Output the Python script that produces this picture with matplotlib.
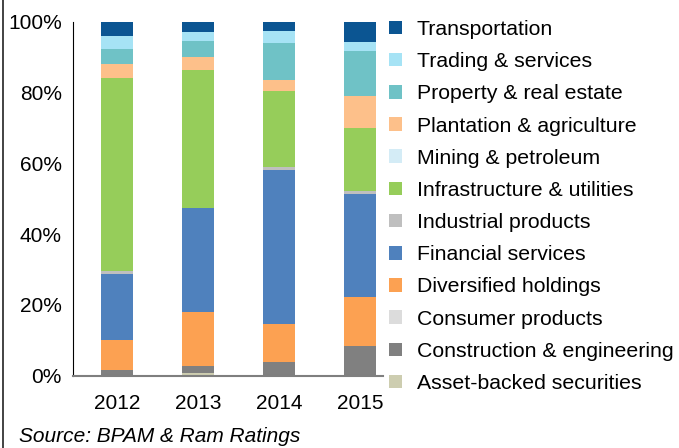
import numpy as np
import matplotlib
matplotlib.use("Agg")
import matplotlib.pyplot as plt
from matplotlib.lines import Line2D

plt.rcParams['font.family'] = ['Liberation Sans', 'DejaVu Sans']

years = ['2012', '2013', '2014', '2015']

# sector shares in %, bottom of the stack first
sectors = ['Asset-backed securities', 'Construction & engineering', 'Consumer products',
           'Diversified holdings', 'Financial services', 'Industrial products',
           'Infrastructure & utilities', 'Mining & petroleum', 'Plantation & agriculture',
           'Property & real estate', 'Trading & services', 'Transportation']
asset_backed = [0.0, 0.8, 0.0, 0.0]
construction = [1.6, 2.0, 3.9, 8.4]
consumer = [0.0, 0.0, 0.0, 0.0]
diversified = [8.5, 15.3, 10.7, 13.9]
financial = [18.7, 29.4, 43.6, 29.1]
industrial = [0.8, 0.0, 0.8, 0.8]
infrastructure = [54.6, 39.0, 21.5, 17.8]
mining = [0.0, 0.0, 0.0, 0.0]
plantation = [3.9, 3.7, 3.1, 9.1]
property_re = [4.3, 4.5, 10.4, 12.7]
trading = [3.6, 2.6, 3.4, 2.5]
transport = [4.0, 2.7, 2.6, 5.7]

series = [asset_backed, construction, consumer, diversified, financial, industrial,
          infrastructure, mining, plantation, property_re, trading, transport]
colors = ['#cdcdb0', '#808080', '#dcdcdc', '#fca152', '#4f81bd', '#bfbfbf',
          '#96cd5a', '#d4ecf6', '#fdc08a', '#6fc2c6', '#a6e3f5', '#0b5592']

fig = plt.figure(figsize=(6.79, 4.48), dpi=100)
ax = fig.add_axes([0.1075, 0.1614, 0.4565, 0.7896])

x = np.arange(len(years))
bottom = np.zeros(len(years))
handles = []
for name, vals, c in zip(sectors, series, colors):
    b = ax.bar(x, vals, width=0.4, bottom=bottom, color=c, label=name)
    handles.append(b)
    bottom += np.array(vals)

ax.set_xlim(-0.54, 3.28)
ax.set_ylim(0, 100)
ax.set_yticks([0, 20, 40, 60, 80, 100])
ax.set_yticklabels(['0%', '20%', '40%', '60%', '80%', '100%'])
ax.set_xticks(x)
ax.set_xticklabels(years)
ax.tick_params(axis='y', length=0, pad=8, labelsize=15)
ax.tick_params(axis='x', length=0, pad=13, labelsize=15)
ax.spines['top'].set_visible(False)
ax.spines['right'].set_visible(False)
ax.spines['left'].set_linewidth(0.8)
ax.spines['bottom'].set_color('#7f7f7f')
ax.spines['bottom'].set_linewidth(1.5)

fig.legend(handles[::-1], sectors[::-1], loc='upper left',
           bbox_to_anchor=(0.573, 0.9553), frameon=False, fontsize=15.3,
           handlelength=0.6, handleheight=0.6, handletextpad=0.7,
           labelspacing=0.62, borderpad=0, borderaxespad=0)

fig.text(0.028, 0.0246, 'Source: BPAM & Ram Ratings', fontsize=15,
         style='italic', va='center', ha='left')

fig.add_artist(Line2D([0.0044, 0.0044], [0, 1], transform=fig.transFigure,
                      color='#222222', linewidth=1.2))

fig.savefig('out.png', dpi=100)
